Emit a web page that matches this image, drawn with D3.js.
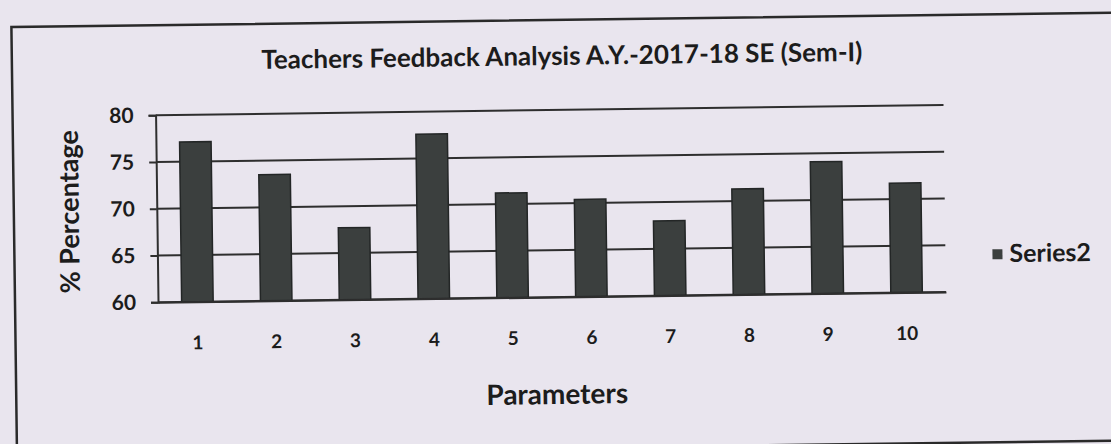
<!DOCTYPE html>
<html>
<head>
<meta charset="utf-8">
<script src="https://cdn.jsdelivr.net/npm/d3@7"></script>
<style>
  html, body { margin: 0; padding: 0; background: #e9e5ee; }
  svg { display: block; }
  text { font-family: Lato, "Open Sans", sans-serif; font-weight: bold; fill: #1c1c1c; }
</style>
</head>
<body>
<div id="chart"></div>
<script>
// values
const parameters = ["1", "2", "3", "4", "5", "6", "7", "8", "9", "10"];
const series2 = [77.1, 73.5, 67.7, 77.6, 71.2, 70.4, 68.0, 71.3, 74.1, 71.7];
const yTicks = [60, 65, 70, 75, 80];

const W = 1111, H = 444;

let svg = d3.select("#chart")
  .append("svg")
    .attr("width", W)
    .attr("height", H);

// the scan is slightly tilted, so draw everything in a rotated group
let root = svg.append("g")
  .attr("transform", `rotate(-0.75, ${W / 2}, ${H / 2})`);

// outer chart border
root.append("rect")
  .attr("x", 14).attr("y", 20)
  .attr("width", 1125).attr("height", 428)
  .attr("fill", "none")
  .attr("stroke", "#2a2a2a")
  .attr("stroke-width", 2.5);

let margin = {left: 157, top: 110};
let width = 788, height = 187;

let g = root.append("g")
  .attr("transform", `translate(${margin.left}, ${margin.top})`);

let x = d3.scaleBand()
  .domain(parameters)
  .range([0, width])
  .paddingInner(0.6)
  .paddingOuter(0.3);

let y = d3.scaleLinear()
  .domain([60, 80])
  .range([height, 0]);

// gridlines
g.selectAll("line.grid")
  .data(yTicks)
  .enter().append("line")
    .attr("class", "grid")
    .attr("x1", 0).attr("x2", width)
    .attr("y1", d => y(d)).attr("y2", d => y(d))
    .attr("stroke", "#2e2e2e")
    .attr("stroke-width", 2);

// Y Axis
let yAxis = g.append("g")
  .call(d3.axisLeft(y).tickValues(yTicks).tickSize(7).tickPadding(15));
yAxis.select(".domain").attr("stroke", "#2e2e2e").attr("stroke-width", 2);
yAxis.selectAll(".tick line").attr("stroke", "#2e2e2e").attr("stroke-width", 2);
yAxis.selectAll("text")
  .attr("font-size", "21px")
  .attr("font-family", "Lato, sans-serif")
  .attr("font-weight", "bold")
  .attr("fill", "#1c1c1c");

// bars
g.selectAll("rect.bar")
  .data(series2)
  .enter().append("rect")
    .attr("class", "bar")
    .attr("x", (d, i) => x(parameters[i]))
    .attr("y", d => y(d))
    .attr("width", x.bandwidth())
    .attr("height", d => height - y(d))
    .attr("fill", "#3b3f3e")
    .attr("stroke", "#232626")
    .attr("stroke-width", 1.5);

// X Axis
let xAxis = g.append("g")
  .attr("transform", `translate(0, ${height})`)
  .call(d3.axisBottom(x).tickSize(0).tickPadding(34));
xAxis.select(".domain").attr("stroke", "#2e2e2e").attr("stroke-width", 2);
xAxis.selectAll("text")
  .attr("font-size", "19px")
  .attr("font-family", "Lato, sans-serif")
  .attr("font-weight", "bold")
  .attr("fill", "#1c1c1c");

// Title
root.append("text")
  .attr("x", 564)
  .attr("y", 65)
  .attr("text-anchor", "middle")
  .attr("font-size", "26px")
  .text("Teachers Feedback Analysis A.Y.-2017-18 SE (Sem-I)");

// Y Label
root.append("text")
  .attr("transform", `translate(79, ${margin.top + height / 2 + 2}) rotate(-90)`)
  .attr("text-anchor", "middle")
  .attr("font-size", "27px")
  .text("% Percentage");

// X Label
root.append("text")
  .attr("x", margin.left + width / 2 + 4)
  .attr("y", 404)
  .attr("text-anchor", "middle")
  .attr("font-size", "28px")
  .text("Parameters");

// legend
let legend = root.append("g")
  .attr("transform", "translate(992, 262)");
legend.append("rect")
  .attr("x", 0).attr("y", -7)
  .attr("width", 10).attr("height", 10)
  .attr("fill", "#3b3f3e");
legend.append("text")
  .attr("x", 17).attr("y", 6)
  .attr("font-size", "25px")
  .text("Series2");
</script>
</body>
</html>
